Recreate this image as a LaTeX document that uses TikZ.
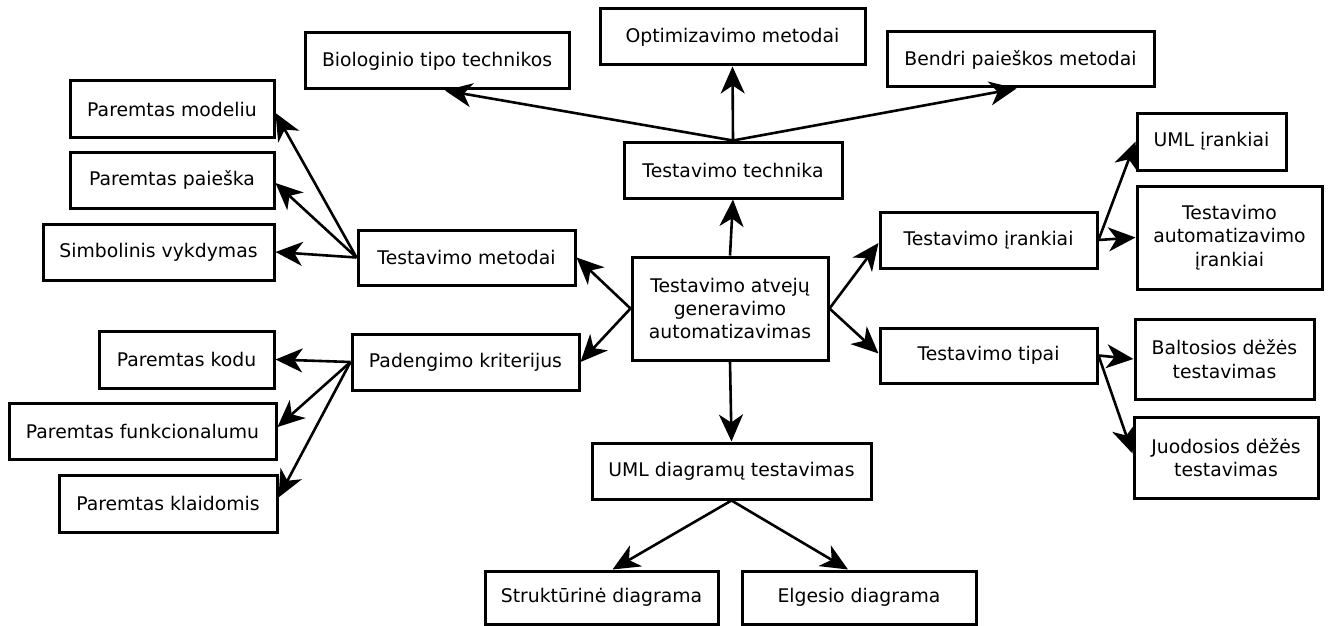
\documentclass[tikz,border=0pt]{standalone}
\usepackage{fontspec}
\setmainfont{DejaVu Sans}
\usetikzlibrary{arrows.meta,calc}

\tikzset{
  box/.style={draw=black, line width=3pt, fill=white, inner sep=0pt,
    align=center, font=\fontsize{18.8}{23.3}\selectfont, text=black},
  link/.style={line width=2.6pt,
    -{Stealth[length=27pt,width=24pt,inset=8pt]}},
}
% place a box by its centre, width and height (all in px-sized pt)
\newcommand{\bx}[6]{\node[box, minimum width=#4pt, minimum height=#5pt] (#1) at (#2pt,-#3pt) {#6};}

\begin{document}
\begin{tikzpicture}
\useasboundingbox (0,0) rectangle (1331pt,-626pt);

% centre
\bx{central}{730}{308.5}{196}{103}{Testavimo atvejų\\generavimo\\automatizavimas}

% upper branch
\bx{technika}{733}{170}{218}{56}{Testavimo technika}
\bx{bio}{437}{61}{264}{56}{Biologinio tipo technikos}
\bx{opt}{732.5}{37}{265}{56}{Optimizavimo metodai}
\bx{bendri}{1020.5}{59.5}{267}{55}{Bendri paieškos metodai}

% left upper branch
\bx{metodai}{466.5}{257.5}{217}{55}{Testavimo metodai}
\bx{modeliu}{172}{109}{204}{56}{Paremtas modeliu}
\bx{paieska}{172}{180}{204}{56}{Paremtas paieška}
\bx{simb}{158.5}{252}{231}{56}{Simbolinis vykdymas}

% left lower branch
\bx{padeng}{465.5}{362}{227}{56}{Padengimo kriterijus}
\bx{kodu}{186.5}{359.5}{175}{57}{Paremtas kodu}
\bx{funk}{142.5}{431}{267}{56}{Paremtas funkcionalumu}
\bx{klaid}{168}{503.5}{218}{57}{Paremtas klaidomis}

% right upper branch
\bx{irankiai}{988.5}{240}{217}{56}{Testavimo įrankiai}
\bx{umlir}{1211.5}{141.5}{149}{57}{UML įrankiai}
\bx{autoir}{1229.5}{237.5}{185}{103}{Testavimo\\automatizavimo\\įrankiai}

% right lower branch
\bx{tipai}{988.5}{355.5}{217}{55}{Testavimo tipai}
\bx{balt}{1224.5}{359}{179}{80}{Baltosios dėžės\\testavimas}
\bx{juod}{1226}{457.5}{184}{81}{Juodosios dėžės\\testavimas}

% lower branch
\bx{umldiag}{731.5}{471}{279}{56}{UML diagramų testavimas}
\bx{strukt}{601.5}{597.5}{233}{53}{Struktūrinė diagrama}
\bx{elg}{859}{597.5}{234}{53}{Elgesio diagrama}

% connectors
\draw[link] (central.north) -- (technika.south);
\draw[link] (technika.north) -- (opt.south);
\draw[link] (technika.north) -- ($(bio.south)+(8pt,0)$);
\draw[link] (technika.north) -- ($(bendri.south)+(-4pt,0)$);

\draw[link] (central.west) -- (metodai.east);
\draw[link] (metodai.west) -- ($(modeliu.east)+(0,-4pt)$);
\draw[link] (metodai.west) -- ($(paieska.east)+(0,-3pt)$);
\draw[link] (metodai.west) -- (simb.east);

\draw[link] (central.west) -- (padeng.east);
\draw[link] (padeng.west) -- (kodu.east);
\draw[link] (padeng.west) -- ($(funk.east)+(0,4pt)$);
\draw[link] (padeng.west) -- ($(klaid.east)+(0,6pt)$);

\draw[link] (central.east) -- ($(irankiai.west)+(0,-3pt)$);
\draw[link] (irankiai.east) -- (umlir.west);
\draw[link] (irankiai.east) -- (autoir.west);

\draw[link] (central.east) -- ($(tipai.west)+(0,2pt)$);
\draw[link] (tipai.east) -- (balt.west);
\draw[link] (tipai.east) -- ($(juod.west)+(0,4pt)$);

\draw[link] (central.south) -- (umldiag.north);
\draw[link] (umldiag.south) -- ($(strukt.north)+(11pt,0)$);
\draw[link] (umldiag.south) -- ($(elg.north)+(-11pt,0)$);
\end{tikzpicture}
\end{document}
